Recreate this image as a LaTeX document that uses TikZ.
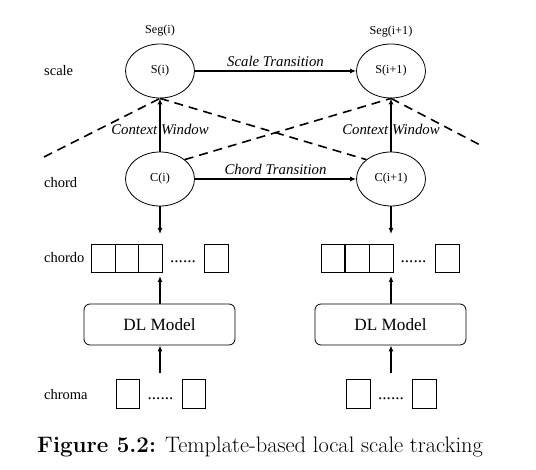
\documentclass[tikz,border=0pt]{standalone}
\usepackage{fontspec}
\newfontfamily\tnr{Liberation Serif}
\usetikzlibrary{arrows.meta,shapes.geometric}
\begin{document}
\begin{tikzpicture}[x=1pt,y=-1pt,
  ell/.style={draw, ellipse, line width=0.8pt, minimum width=69pt, minimum height=54pt, inner sep=0pt, font=\tnr\fontsize{12.2}{14}\selectfont},
  arr/.style={line width=1.3pt, -{Latex[length=6pt,width=5pt]}},
  dsh/.style={line width=1.6pt, dash pattern=on 9pt off 6pt},
  lab/.style={font=\tnr\fontsize{14.5}{17}\selectfont, inner sep=0pt},
  small/.style={font=\tnr\fontsize{12.2}{14}\selectfont, inner sep=0pt},
  itl/.style={font=\tnr\itshape\fontsize{14.8}{17}\selectfont, inner sep=1pt},
  cell/.style={draw, line width=0.8pt, minimum width=23.5pt, minimum height=28pt, inner sep=0pt},
  ccell/.style={draw, line width=0.8pt, minimum width=23pt, minimum height=29pt, inner sep=0pt},
  dots/.style={font=\tnr\fontsize{17.2}{20}\selectfont, inner sep=0pt},
  dl/.style={draw, line width=0.8pt, rounded corners=6pt, minimum width=151pt, minimum height=41pt, inner sep=0pt, font=\tnr\fontsize{17.2}{20}\selectfont}
]
\useasboundingbox (0,0) rectangle (536,470);
% row labels
\node[lab, anchor=west] (lscale) at (44,71) {scale};
\node[lab, anchor=west] (lchord) at (44,183) {chord};
\node[lab, anchor=west] (lchordo) at (44,258) {chordo};
\node[lab, anchor=west] (lchroma) at (44,395) {chroma};
% seg labels
\node[small] (seg1) at (160,31) {Seg(i)};
\node[small] (seg2) at (391,32) {Seg(i+1)};
% ellipses
\node[ell] (S1) at (160,71) {S(i)};
\node[ell] (S2) at (391,71) {S(i+1)};
\node[ell] (C1) at (160,179) {C(i)};
\node[ell] (C2) at (391,179) {C(i+1)};
% transitions
\draw[arr] (S1) -- node[itl, above=2.5pt] (st) {Scale Transition} (S2);
\draw[arr] (C1) -- node[itl, above=2.5pt] (ct) {Chord Transition} (C2);
% vertical
\draw[arr] (C1) -- node[itl, pos=0.41] (cw1) {Context Window} (S1);
\draw[arr] (C2) -- node[itl, pos=0.41] (cw2) {Context Window} (S2);
% dashed context window
\coordinate (dl0) at (44,157);
\coordinate (dr0) at (482,146);
\draw[dsh] (dl0) -- (S1.south);
\draw[dsh] (S1.south) -- (C2.north west);
\draw[dsh] (C1.north east) -- (S2.south);
\draw[dsh] (S2.south) -- (dr0);
% chordo cells
\node[cell] (a1) at (103.5,258) {};
\node[cell] (a2) at (127,258) {};
\node[cell] (a3) at (150.5,258) {};
\node[dots] (ad) at (183,262) {......};
\node[cell, minimum width=24pt] (a4) at (216,258) {};
\node[cell] (b1) at (333,258) {};
\node[cell] (b2) at (357.5,258) {};
\node[cell] (b3) at (381.5,258) {};
\node[dots] (bd) at (413.5,262) {......};
\node[cell, minimum width=24pt] (b4) at (447,258) {};
% arrows C -> chordo
\coordinate (ca1) at (160,234);
\coordinate (ca2) at (391,234);
\draw[arr] (C1) -- (ca1);
\draw[arr] (C2) -- (ca2);
% DL models
\node[dl] (DL1) at (159.5,324.5) {DL Model};
\node[dl] (DL2) at (390.5,324.5) {DL Model};
\coordinate (up1) at (160,276);
\coordinate (up2) at (391,276);
\draw[arr] (DL1.north -| up1) -- (up1);
\draw[arr] (DL2.north -| up2) -- (up2);
\coordinate (in1) at (160,373);
\coordinate (in2) at (391,373);
\draw[arr] (in1) -- (DL1.south -| in1);
\draw[arr] (in2) -- (DL2.south -| in2);
% chroma cells
\node[ccell] (c1) at (127.5,393.5) {};
\node[dots] (cd) at (160.5,399) {......};
\node[ccell] (c2) at (193.5,393.5) {};
\node[ccell, minimum width=24pt] (e1) at (358,393.5) {};
\node[dots] (ed) at (391,399) {......};
\node[ccell, minimum width=24pt] (e2) at (424,393.5) {};
% caption
\node[anchor=base west, inner sep=0pt, font=\fontsize{22.4}{27}\selectfont] (cap) at (37,453) {\textbf{Figure 5.2:} Template-based local scale tracking};
\end{tikzpicture}
\end{document}
